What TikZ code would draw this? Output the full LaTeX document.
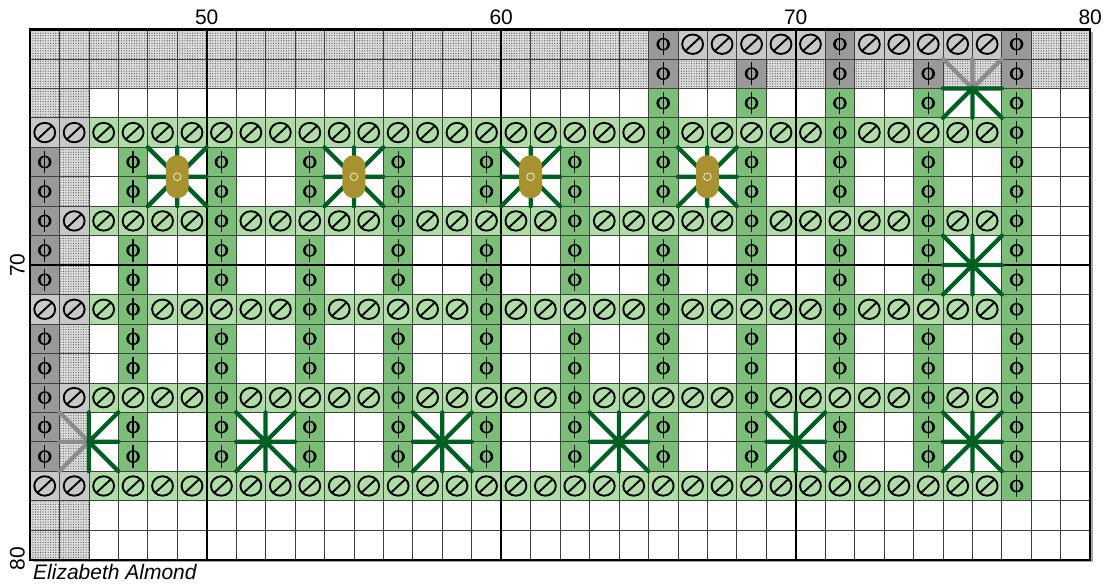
\documentclass[tikz,border=0pt]{standalone}
\usepackage{fontspec}
\newfontfamily\lblfont{Liberation Sans}
\usetikzlibrary{patterns.meta}
\definecolor{lgreen}{RGB}{174,221,166}
\definecolor{mgreen}{RGB}{122,190,120}
\definecolor{lgray}{RGB}{200,200,200}
\definecolor{dgray}{RGB}{153,153,153}
\definecolor{stargreen}{RGB}{0,96,36}
\definecolor{stargray}{RGB}{140,140,140}
\definecolor{beadcol}{RGB}{168,146,48}
\tikzset{
  symline/.style={line width=1.4pt, black},
  oslash/.pic={\draw[symline] (0,0) ellipse[x radius=0.355, y radius=0.33];
               \draw[symline] (-0.25,-0.233) -- (0.25,0.233);},
  phisym/.pic={\fill[black, even odd rule] (0,0) ellipse[x radius=0.23, y radius=0.215]
                 (0,0) ellipse[x radius=0.145, y radius=0.18];
               \draw[black, line width=0.9pt] (0,-0.38) -- (0,0.38);},
  gridthin/.style={line width=0.6pt, black!75},
  gridthick/.style={line width=1.6pt, black},
  starline/.style={line width=3.2pt, stargreen, line cap=round},
  greyline/.style={line width=3.2pt, stargray, line cap=round},
  lbl/.style={font=\lblfont\fontsize{15.75}{18}\selectfont, inner sep=0pt},
  beadshape/.style={fill=beadcol, rounded corners=8.5pt},
}
\newcommand\HS[3]{\fill[#3] (#1,-#2) rectangle ++(1,-1); \pic at (#1+0.5,-#2-0.5) {oslash};}
\newcommand\VP[3]{\fill[#3] (#1,-#2) rectangle ++(1,-1); \pic at (#1+0.5,-#2-0.5) {phisym};}
\newcommand\StarAt[2]{\draw[starline] (#1-1,-#2+1) -- (#1+1,-#2-1) (#1+1,-#2+1) -- (#1-1,-#2-1)
   (#1-1,-#2) -- (#1+1,-#2) (#1,-#2+1) -- (#1,-#2-1);}
\newcommand\BeadAt[2]{\fill[beadshape] (#1-0.39,-#2+0.73) rectangle (#1+0.39,-#2-0.73);
   \draw[white!80!beadcol, line width=0.6pt] (#1,-#2) circle (0.13);}
\begin{document}
\begin{tikzpicture}[x=22.0875pt, y=22.0875pt]
\useasboundingbox (-1.0187,1.0017) rectangle (36.5025,-18.9643);
% dotted (overlap) area
\fill[black!14] (0,0) rectangle (36,-2);
\fill[black!14] (0,-2) rectangle (2,-18);
\fill[pattern={Dots[distance=1.9pt, radius=0.45pt]}, pattern color=black!65] (0,0) rectangle (36,-2);
\fill[pattern={Dots[distance=1.9pt, radius=0.45pt]}, pattern color=black!65] (0,-2) rectangle (2,-18);
% horizontal bars
\foreach \r in {3,6,9,12,15} {\foreach \c in {2,...,33} {\HS{\c}{\r}{lgreen}}}
% vertical bars
\foreach \r in {4,5,7,8,10,11,13,14} {\foreach \c in {3,6,...,33} {\VP{\c}{\r}{mgreen}}}
\foreach \c in {21,24,...,33} {\VP{\c}{2}{mgreen}}
% crossings where the vertical lies on top
\foreach \c in {21,27,33} {\VP{\c}{3}{mgreen}}
\foreach \c in {6,12,18,24,30,33} {\VP{\c}{6}{mgreen}\VP{\c}{12}{mgreen}}
\foreach \c in {3,9,15,21,27,33} {\VP{\c}{9}{mgreen}}
\VP{33}{15}{mgreen}
% grey (overlap) stitches
\foreach \c in {22,23,24,25,26,28,29,30,31,32} {\HS{\c}{0}{lgray}}
\foreach \c in {21,27,33} {\VP{\c}{0}{dgray}}
\foreach \c in {21,24,...,33} {\VP{\c}{1}{dgray}}
\foreach \r in {3,9,15} {\HS{0}{\r}{lgray}}
\foreach \r in {4,5,6,7,8,10,11,12,13,14} {\VP{0}{\r}{dgray}}
\foreach \r in {3,6,9,12,15} {\HS{1}{\r}{lgray}}
% grid
\foreach \i in {0,...,36} {\draw[gridthin] (\i,0) -- (\i,-18);}
\foreach \j in {0,...,18} {\draw[gridthin] (0,-\j) -- (36,-\j);}
\foreach \i in {6,16,26} {\draw[gridthick] (\i,0) -- (\i,-18);}
\draw[gridthick] (0,-8) -- (36,-8);
\draw[black!35, line width=1pt] (0.1,-18.06) -- (36.06,-18.06) -- (36.06,-0.1);
\draw[gridthick] (0,0) rectangle (36,-18);
% half-grey stars
\draw[greyline] (31,-1) -- (32,-2) -- (33,-1) (32,-1) -- (32,-2);
\draw[starline] (31,-2) -- (33,-2) (31,-3) -- (32,-2) -- (33,-3) (32,-2) -- (32,-3);
\draw[greyline] (1,-13) -- (2,-14) -- (1,-15) (1,-14) -- (2,-14);
\draw[starline] (2,-13) -- (2,-15) (3,-13) -- (2,-14) -- (3,-15) (2,-14) -- (3,-14);
% full stars
\foreach \x in {5,11,17,23} {\StarAt{\x}{5}}
\StarAt{32}{8}
\foreach \x in {8,14,20,26,32} {\StarAt{\x}{14}}
% beads
\foreach \x in {5,11,17,23} {\BeadAt{\x}{5}}
% labels
\node[lbl, anchor=base] (t50) at (6,0.186) {50};
\node[lbl, anchor=base] (t60) at (16,0.186) {60};
\node[lbl, anchor=base] (t70) at (26,0.186) {70};
\node[lbl, anchor=base] (t80) at (36,0.186) {80};
\node[lbl, rotate=90] (l70) at (-0.43,-8) {70};
\node[lbl, rotate=90] (l80) at (-0.43,-17.97) {80};
\node[lbl, anchor=base west, font=\lblfont\itshape\fontsize{15.75}{18}\selectfont] (author) at (0.10,-18.66) {Elizabeth Almond};
\end{tikzpicture}
\end{document}
